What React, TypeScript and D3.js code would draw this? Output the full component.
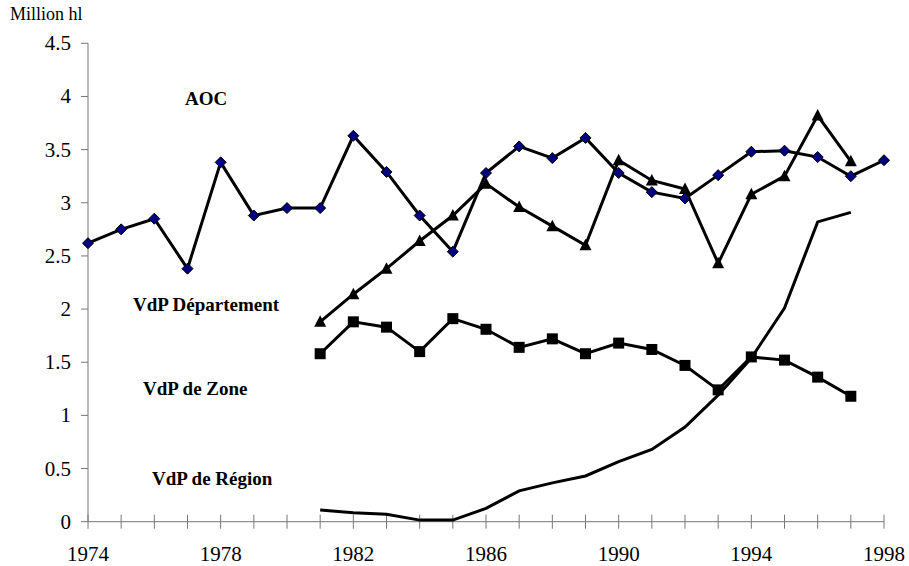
import React from "react";
import * as d3 from "d3";

const width = 909;
const height = 566;

const aocYears = d3.range(1974, 1999);
const aoc = [
  2.62, 2.75, 2.85, 2.38, 3.38, 2.88, 2.95, 2.95, 3.63, 3.29, 2.88, 2.54, 3.28,
  3.53, 3.42, 3.61, 3.28, 3.1, 3.04, 3.26, 3.48, 3.49, 3.43, 3.25, 3.4,
];

const vdpYears = d3.range(1981, 1998);
const departement = [
  1.88, 2.14, 2.38, 2.64, 2.88, 3.18, 2.96, 2.78, 2.6, 3.4, 3.21, 3.13, 2.43,
  3.08, 3.25, 3.82, 3.39,
];
const zone = [
  1.58, 1.88, 1.83, 1.6, 1.91, 1.81, 1.64, 1.72, 1.58, 1.68, 1.62, 1.47, 1.24,
  1.55, 1.52, 1.36, 1.18,
];
const region = [
  0.11, 0.085, 0.07, 0.015, 0.015, 0.125, 0.29, 0.365, 0.43, 0.565, 0.68, 0.89,
  1.19, 1.54, 2.01, 2.82, 2.91,
];

const yTicks = [0, 0.5, 1, 1.5, 2, 2.5, 3, 3.5, 4, 4.5];
const xLabelYears = [1974, 1978, 1982, 1986, 1990, 1994, 1998];

const labels = [
  { text: "AOC", x: 185, y: 105 },
  { text: "VdP Département", x: 133, y: 311 },
  { text: "VdP de Zone", x: 143, y: 395 },
  { text: "VdP de Région", x: 152, y: 485 },
];

const x = d3.scaleLinear().domain([1974, 1998]).range([88, 884]);
const y = d3.scaleLinear().domain([0, 4.5]).range([521.7, 43.3]);

type Pt = [number, number];
const line = d3
  .line<Pt>()
  .x((d) => x(d[0]))
  .y((d) => y(d[1]));

const zip = (years: number[], vals: number[]): Pt[] =>
  years.map((yr, i) => [yr, vals[i]]);

const font = "'Liberation Serif', 'Times New Roman', serif";
const axisColor = "#777";

const App = () => {
  const aocPts = zip(aocYears, aoc);
  const depPts = zip(vdpYears, departement);
  const zonePts = zip(vdpYears, zone);
  const regPts = zip(vdpYears, region);

  return (
    <div style={{ position: "absolute", left: 0, top: 0 }}>
      <svg width={width} height={height} style={{ display: "block", background: "#fff" }}>
        {/* axes */}
        <line x1={x(1974)} x2={x(1974)} y1={y(4.5)} y2={y(0)} stroke={axisColor} />
        <line x1={x(1974)} x2={x(1998)} y1={y(0)} y2={y(0)} stroke={axisColor} />
        {yTicks.map((t) => (
          <g key={t}>
            <line x1={x(1974) - 7} x2={x(1974)} y1={y(t)} y2={y(t)} stroke={axisColor} />
            <text
              x={71}
              y={y(t)}
              textAnchor="end"
              dominantBaseline="central"
              fontFamily={font}
              fontSize={21}
            >
              {t}
            </text>
          </g>
        ))}
        {d3.range(1974, 1999).map((yr) => (
          <line
            key={yr}
            x1={x(yr)}
            x2={x(yr)}
            y1={y(0) - 7}
            y2={y(0) + 7}
            stroke={axisColor}
          />
        ))}
        {xLabelYears.map((yr) => (
          <text
            key={yr}
            x={x(yr)}
            y={561}
            textAnchor="middle"
            fontFamily={font}
            fontSize={21}
          >
            {yr}
          </text>
        ))}
        <text x={10} y={20} fontFamily={font} fontSize={18}>
          Million hl
        </text>

        {/* lines */}
        <path d={line(regPts) || ""} fill="none" stroke="#000" strokeWidth={3} />
        <path d={line(zonePts) || ""} fill="none" stroke="#000" strokeWidth={3} />
        <path d={line(depPts) || ""} fill="none" stroke="#000" strokeWidth={3} />
        <path d={line(aocPts) || ""} fill="none" stroke="#000" strokeWidth={3} />

        {/* markers */}
        {zonePts.map((d) => (
          <rect key={d[0]} x={x(d[0]) - 5.5} y={y(d[1]) - 5.5} width={11} height={11} fill="#000" />
        ))}
        {depPts.map((d) => {
          const cx = x(d[0]);
          const cy = y(d[1]);
          return (
            <path
              key={d[0]}
              d={`M${cx},${cy - 6.5}L${cx + 6},${cy + 5}L${cx - 6},${cy + 5}Z`}
              fill="#000"
            />
          );
        })}
        {aocPts.map((d) => {
          const cx = x(d[0]);
          const cy = y(d[1]);
          return (
            <path
              key={d[0]}
              d={`M${cx},${cy - 5.5}L${cx + 5.5},${cy}L${cx},${cy + 5.5}L${cx - 5.5},${cy}Z`}
              fill="#000080"
              stroke="#000"
              strokeWidth={1}
            />
          );
        })}

        {/* series labels */}
        {labels.map((l) => (
          <text key={l.text} x={l.x} y={l.y} fontFamily={font} fontSize={19} fontWeight="bold">
            {l.text}
          </text>
        ))}
      </svg>
    </div>
  );
};

export default App;
